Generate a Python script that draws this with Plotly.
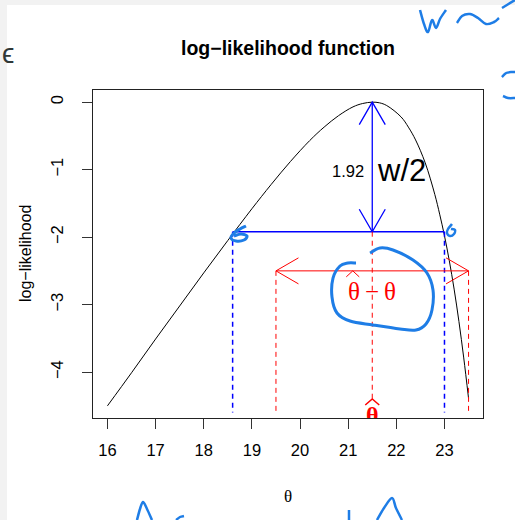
import plotly.graph_objects as go

# ---------------- data ----------------
theta = [16.0, 16.5, 17.0, 17.5, 18.0, 18.5, 19.0, 19.4, 19.8, 20.2, 20.5, 20.8,
         21.1, 21.3, 21.5, 21.65, 21.8, 22.1, 22.25, 22.4, 22.6, 22.8, 22.9,
         23.0, 23.1, 23.2, 23.3, 23.4, 23.5]
loglik = [-4.50, -4.01, -3.51, -3.02, -2.53, -2.05, -1.58, -1.22, -0.88, -0.57,
          -0.37, -0.20, -0.07, -0.02, 0.0, -0.01, -0.05, -0.22, -0.37, -0.56,
          -0.90, -1.37, -1.66, -1.98, -2.35, -2.77, -3.25, -3.79, -4.39]

theta_hat = 21.5
half_w = 1.92                 # w/2
ci_theta = [18.6, 23.0]       # where log-lik = -1.92
err_level = -2.5
err_theta = [19.5, 23.5]
drop_to = -4.6
x_ticks = [16, 17, 18, 19, 20, 21, 22, 23]
y_ticks = [0, -1, -2, -3, -4]
x_range = [15.7, 23.8]
y_range = [-4.68, 0.18]

# ---------------- geometry ----------------
W, H = 515, 520
ML, MR, MT, MB = 93, 32, 90, 102
PW = W - ML - MR
PH = H - MT - MB
ppx = PW / (x_range[1] - x_range[0])
ppy = PH / (y_range[1] - y_range[0])

BLUE = '#0000ff'
RED = '#ff0000'
HAND = 'rgb(30,125,230)'
SANS = 'Liberation Sans, Arial, sans-serif'
SERIF = 'Liberation Serif, DejaVu Serif, serif'

fig = go.Figure()


def seg(xs, ys, color, width=1, dash=None):
    fig.add_trace(go.Scatter(x=xs, y=ys, mode='lines', hoverinfo='skip',
                             line=dict(color=color, width=width, dash=dash),
                             showlegend=False))


def head(tx, ty, direction, color, width=1):
    # open V arrow head, 26px long at 30 degrees
    along, across = 22.5, 13.0
    if direction == 'up':
        xs = [tx - across / ppx, tx, tx + across / ppx]
        ys = [ty - along / ppy, ty, ty - along / ppy]
    elif direction == 'down':
        xs = [tx - across / ppx, tx, tx + across / ppx]
        ys = [ty + along / ppy, ty, ty + along / ppy]
    elif direction == 'left':
        xs = [tx + along / ppx, tx, tx + along / ppx]
        ys = [ty + across / ppy, ty, ty - across / ppy]
    else:
        xs = [tx - along / ppx, tx, tx - along / ppx]
        ys = [ty + across / ppy, ty, ty - across / ppy]
    seg(xs, ys, color, width)


def hat(cx, cy, color, half=7.0, rise=6.0, width=1):
    # thin chevron accent centred at data point, offsets in px
    seg([cx - half / ppx, cx, cx + half / ppx],
        [cy - rise / 2 / ppy, cy + rise / 2 / ppy, cy - rise / 2 / ppy], color, width)


# curve
fig.add_trace(go.Scatter(x=theta, y=loglik, mode='lines', line_shape='spline',
                         line=dict(color='black', width=1), hoverinfo='skip',
                         showlegend=False))

# blue: w/2 double arrow, cut line, dashed drops
seg([theta_hat, theta_hat], [-half_w, 0], BLUE, 1.3)
head(theta_hat, 0, 'up', BLUE, 1.3)
head(theta_hat, -half_w, 'down', BLUE, 1.3)
seg(ci_theta, [-half_w, -half_w], BLUE, 1.5)
for c in ci_theta:
    seg([c, c], [-half_w, drop_to], BLUE, 1.5, '5px,4px')

# red: theta-hat drop, error arrow, dashed drops
seg([theta_hat, theta_hat], [-half_w, -4.4], RED, 1, '5px,4px')
seg(err_theta, [err_level, err_level], RED, 1)
head(err_theta[0], err_level, 'left', RED, 1)
head(err_theta[1], err_level, 'right', RED, 1)
for c in err_theta:
    seg([c, c], [err_level, drop_to], RED, 1, '5px,4px')

# theta-hat label at bottom (clipped by plot box)
fig.add_trace(go.Scatter(x=[theta_hat], y=[-4.67], mode='text', text=['θ'],
                         textfont=dict(family=SERIF, size=24, color=RED, weight='bold'),
                         textposition='middle center', cliponaxis=True,
                         hoverinfo='skip', showlegend=False))
hat(theta_hat, y_range[0] + (418 - 402) / ppy, RED, half=7, rise=6, width=1.5)

# hat over the first theta of "theta-hat minus theta"
hat(theta_hat - 19.5 / ppx, err_level - 3 / ppy, RED, half=6.5, rise=6, width=1)

annotations = [
    dict(x=theta_hat, y=-half_w / 2, xref='x', yref='y', text='1.92',
         xanchor='right', yanchor='middle', xshift=-6, yshift=-4, showarrow=False,
         font=dict(family=SANS, size=16.5, color='black')),
    dict(x=theta_hat, y=-half_w / 2, xref='x', yref='y', text='w/2',
         xanchor='left', yanchor='middle', xshift=3, yshift=-4, showarrow=False,
         font=dict(family=SANS, size=31, color='black')),
    dict(x=theta_hat, y=err_level, xref='x', yref='y', text='θ\u2009−\u2009θ',
         xanchor='center', yanchor='middle', yshift=-21, showarrow=False,
         font=dict(family=SERIF, size=25, color=RED)),
    # axis titles
    dict(x=(25 - ML) / PW, y=0.5, xref='paper', yref='paper', text='log−likelihood',
         textangle=-90, showarrow=False, xanchor='center', yanchor='middle',
         font=dict(family=SANS, size=16, color='black')),
    dict(x=(288 - ML) / PW, y=(MT + PH - 497) / PH, xref='paper', yref='paper',
         text='θ', showarrow=False, xanchor='center', yanchor='middle',
         font=dict(family=SERIF, size=17, color='black')),
    # cut-off glyph at the far left
    dict(x=(0 - ML) / PW, y=(MT + PH - 53) / PH, xref='paper', yref='paper',
         text='ϵ', showarrow=False, xanchor='left', yanchor='middle',
         font=dict(family=SANS, size=28, color='#2f3838')),
]


# ---------------- hand-drawn blue strokes (pixel positions) ----------------
def to_paper(p):
    return ((p[0] - ML) / PW, (MT + PH - p[1]) / PH)


def smooth(pts):
    P = [to_paper(p) for p in pts]
    s = 'M {:.4f},{:.4f}'.format(*P[0])
    for i in range(len(P) - 1):
        p0 = P[i - 1] if i > 0 else P[i]
        p1, p2 = P[i], P[i + 1]
        p3 = P[i + 2] if i + 2 < len(P) else P[i + 1]
        c1 = (p1[0] + (p2[0] - p0[0]) / 6, p1[1] + (p2[1] - p0[1]) / 6)
        c2 = (p2[0] - (p3[0] - p1[0]) / 6, p2[1] - (p3[1] - p1[1]) / 6)
        s += ' C {:.4f},{:.4f} {:.4f},{:.4f} {:.4f},{:.4f}'.format(*c1, *c2, *p2)
    return s


strokes = [
    ([(370, 253), (380, 248), (393, 250), (413, 260), (427, 273), (433, 290),
      (432, 310), (426, 324), (416, 330), (400, 329), (373, 325), (350, 321),
      (337, 313), (332, 297), (333, 278), (340, 266), (348, 263), (356, 263)], 3),
    ([(246, 226), (240, 229), (234, 233), (231, 238), (236, 241), (244, 240),
      (247, 236), (241, 234), (234, 236)], 3),
    ([(452, 224), (448, 229), (447, 233), (450, 236), (454, 234), (455, 230),
      (451, 229)], 2.5),
    ([(420, 10), (424, 24), (428, 32), (432, 20), (436, 28), (440, 19), (446, 10)], 2.5),
    ([(457, 23), (462, 16), (470, 14), (478, 18), (486, 24), (494, 22), (499, 18)], 2.5),
    ([(502, 8), (515, 0)], 2.5),
    ([(502, 77), (506, 73), (512, 72), (515, 72)], 2.5),
    ([(503, 96), (508, 98), (515, 98)], 2.5),
    ([(137, 520), (140, 509), (143, 502), (147, 509), (152, 520)], 2.5),
    ([(176, 520), (180, 517), (184, 516)], 2.5),
    ([(349, 510), (349, 520)], 2.5),
    ([(377, 520), (384, 508), (392, 498), (396, 508), (402, 520)], 2.5),
]

shapes = [
    dict(type='rect', xref='paper', yref='paper', layer='below',
         x0=(0 - ML) / PW, x1=(W - ML) / PW, y0=(MT + PH - 5) / PH, y1=(MT + PH) / PH,
         fillcolor='#f2f2f2', line=dict(width=0)),
    dict(type='rect', xref='paper', yref='paper', layer='below',
         x0=(0 - ML) / PW, x1=(7 - ML) / PW, y0=(MT + PH - H) / PH, y1=(MT + PH) / PH,
         fillcolor='#f2f2f2', line=dict(width=0)),
]
for pts, w in strokes:
    shapes.append(dict(type='path', xref='paper', yref='paper', path=smooth(pts),
                       line=dict(color=HAND, width=w), layer='above'))

axis_common = dict(showgrid=False, zeroline=False, ticks='outside', ticklen=10,
                   tickwidth=1, tickcolor='#333', showline=True, mirror=True,
                   linecolor='#222', linewidth=1,
                   tickfont=dict(family=SANS, size=16.5, color='black'))

fig.update_layout(
    width=W, height=H,
    margin=dict(l=ML, r=MR, t=MT, b=MB, autoexpand=False),
    paper_bgcolor='white', plot_bgcolor='white',
    title=dict(text='<b>log−likelihood function</b>', x=288 / W, xref='container',
               xanchor='center', y=1 - 48 / H, yref='container', yanchor='middle',
               font=dict(family=SANS, size=19.5, color='black')),
    xaxis=dict(range=x_range, tickvals=x_ticks, ticklabelstandoff=7, **axis_common),
    yaxis=dict(range=y_range, tickvals=y_ticks, tickangle=-90, ticklabelstandoff=12,
               **axis_common),
    annotations=annotations,
    shapes=shapes,
    showlegend=False,
)

fig.write_html('out.html',
               config={'displayModeBar': False},
               post_script="document.body.style.margin='0';"
                           "document.body.style.padding='0';"
                           "document.body.style.overflow='hidden';")
